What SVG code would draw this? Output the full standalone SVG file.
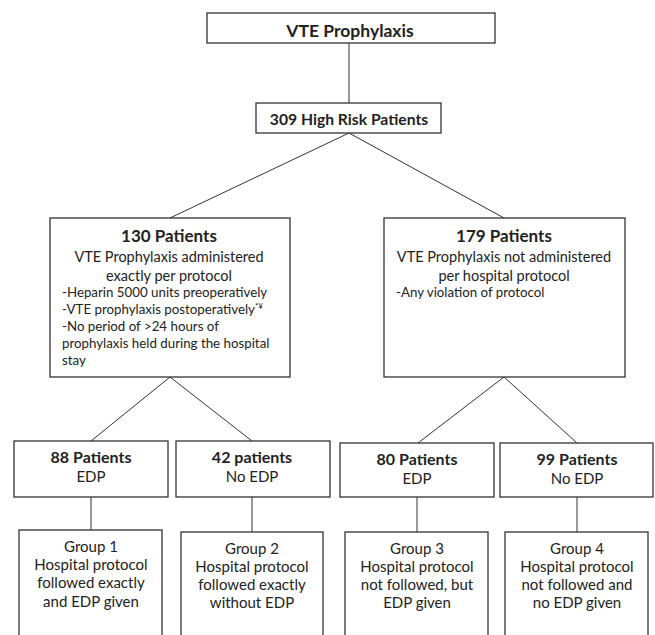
<svg xmlns="http://www.w3.org/2000/svg" width="655" height="635" viewBox="0 0 655 635">
<style>
.box{fill:#fff;stroke:#333;stroke-width:1.3}
.ln{stroke:#333;stroke-width:1;fill:none}
text{font-family:Lato,"Open Sans","Liberation Sans",sans-serif;fill:#222}
.t{font-weight:bold;text-anchor:middle}
.c{font-size:14.5px;text-anchor:middle}
.g{font-size:15px;text-anchor:middle}
.l{font-size:13.3px}
</style>
<rect width="655" height="635" fill="#fff"/>
<g id="connectors">
<line class="ln" x1="349" y1="43" x2="349" y2="103"/>
<line class="ln" x1="349" y1="133" x2="170" y2="218"/>
<line class="ln" x1="349" y1="133" x2="504" y2="218"/>
<line class="ln" x1="170" y1="377" x2="91" y2="441"/>
<line class="ln" x1="170" y1="377" x2="252" y2="441"/>
<line class="ln" x1="504" y1="377" x2="418" y2="443"/>
<line class="ln" x1="504" y1="377" x2="577" y2="443"/>
<line class="ln" x1="91" y1="497" x2="91" y2="530"/>
<line class="ln" x1="252" y1="497" x2="252" y2="532"/>
<line class="ln" x1="417" y1="497" x2="417" y2="532"/>
<line class="ln" x1="577" y1="497" x2="577" y2="532"/>
</g>
<g id="n_vte">
<rect class="box" x="207" y="13" width="288" height="30"/>
<text class="t" x="350" y="37" font-size="17.5">VTE Prophylaxis</text>
</g>
<g id="n_309">
<rect class="box" x="256" y="103" width="185" height="30"/>
<text class="t" x="349" y="125" font-size="15.7">309 High Risk Patients</text>
</g>
<g id="n_130">
<rect class="box" x="50" y="218" width="240" height="159"/>
<text class="t" x="169" y="242" font-size="17">130 Patients</text>
<text class="c" x="169" y="262">VTE Prophylaxis administered</text>
<text class="c" x="169" y="281">exactly per protocol</text>
<text class="l" x="62" y="297">-Heparin 5000 units preoperatively</text>
<text class="l" x="62" y="314">-VTE prophylaxis postoperatively<tspan font-size="8" dy="-5">*¥</tspan></text>
<text class="l" x="62" y="331">-No period of &gt;24 hours of</text>
<text class="l" x="62" y="348">prophylaxis held during the hospital</text>
<text class="l" x="62" y="365">stay</text>
</g>
<g id="n_179">
<rect class="box" x="384" y="218" width="241" height="159"/>
<text class="t" x="504" y="242" font-size="17">179 Patients</text>
<text class="c" x="504" y="262">VTE Prophylaxis not administered</text>
<text class="c" x="504" y="281">per hospital protocol</text>
<text class="l" x="396" y="297">-Any violation of protocol</text>
</g>
<g id="n_88">
<rect class="box" x="14" y="441" width="154" height="56"/>
<text class="t" x="91" y="463" font-size="16">88 Patients</text>
<text class="g" x="91" y="482">EDP</text>
</g>
<g id="n_42">
<rect class="box" x="176" y="441" width="154" height="56"/>
<text class="t" x="252" y="463" font-size="16">42 patients</text>
<text class="g" x="252" y="482">No EDP</text>
</g>
<g id="n_80">
<rect class="box" x="340" y="443" width="154" height="54"/>
<text class="t" x="417" y="465" font-size="16">80 Patients</text>
<text class="g" x="417" y="484">EDP</text>
</g>
<g id="n_99">
<rect class="box" x="500" y="443" width="153" height="54"/>
<text class="t" x="577" y="465" font-size="16">99 Patients</text>
<text class="g" x="577" y="484">No EDP</text>
</g>
<g id="n_g1">
<rect class="box" x="19" y="530" width="143" height="120"/>
<text class="g" x="91" y="552">Group 1</text>
<text class="g" x="91" y="570">Hospital protocol</text>
<text class="g" x="91" y="588">followed exactly</text>
<text class="g" x="91" y="607">and EDP given</text>
</g>
<g id="n_g2">
<rect class="box" x="181" y="532" width="142" height="120"/>
<text class="g" x="252" y="554">Group 2</text>
<text class="g" x="252" y="572">Hospital protocol</text>
<text class="g" x="252" y="590">followed exactly</text>
<text class="g" x="252" y="608">without EDP</text>
</g>
<g id="n_g3">
<rect class="box" x="345" y="532" width="143" height="120"/>
<text class="g" x="417" y="554">Group 3</text>
<text class="g" x="417" y="572">Hospital protocol</text>
<text class="g" x="417" y="590">not followed, but</text>
<text class="g" x="417" y="608">EDP given</text>
</g>
<g id="n_g4">
<rect class="box" x="505" y="532" width="143" height="120"/>
<text class="g" x="577" y="554">Group 4</text>
<text class="g" x="577" y="572">Hospital protocol</text>
<text class="g" x="577" y="590">not followed and</text>
<text class="g" x="577" y="608">no EDP given</text>
</g>
</svg>
